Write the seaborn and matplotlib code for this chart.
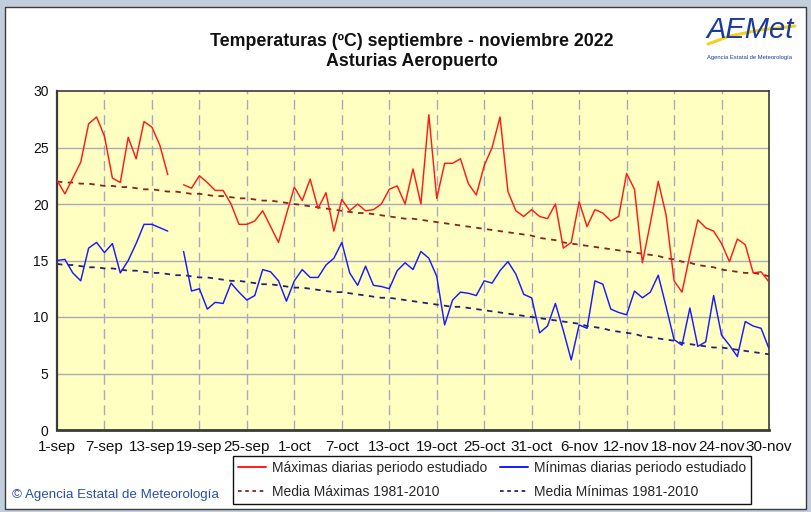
import numpy as np
import pandas as pd
import matplotlib
matplotlib.use("Agg")
import matplotlib.pyplot as plt
import seaborn as sns
from matplotlib.lines import Line2D
from matplotlib.patches import Rectangle

nan = np.nan

# Daily maximum temperatures (ºC), 1-sep .. 30-nov 2022 (16-sep missing)
tmax = [22.1, 20.9, 22.3, 23.7, 27.1, 27.7, 26.0, 22.3, 21.9, 25.9,
        24.0, 27.3, 26.8, 25.2, 22.6, nan, 21.7, 21.4, 22.5, 21.9,
        21.2, 21.2, 20.0, 18.2, 18.2, 18.5, 19.4, 18.0, 16.6, 19.1,
        21.5, 20.3, 22.2, 19.6, 21.0, 17.6, 20.4, 19.4, 20.0, 19.4,
        19.5, 20.0, 21.3, 21.6, 20.0, 23.1, 20.0, 27.9, 20.5, 23.6,
        23.6, 24.0, 21.8, 20.8, 23.4, 25.0, 27.7, 21.1, 19.4, 18.9,
        19.5, 18.9, 18.7, 20.0, 16.1, 16.6, 20.2, 18.0, 19.5, 19.2,
        18.5, 18.9, 22.7, 21.3, 14.8, 18.3, 22.0, 19.0, 13.2, 12.2,
        15.5, 18.6, 17.9, 17.6, 16.5, 14.9, 16.9, 16.4, 13.9, 14.0,
        13.1]

# Daily minimum temperatures (ºC)
tmin = [15.0, 15.1, 13.9, 13.2, 16.1, 16.6, 15.7, 16.5, 13.9, 15.0,
        16.5, 18.2, 18.2, 17.9, 17.6, nan, 15.8, 12.3, 12.5, 10.7,
        11.3, 11.2, 13.0, 12.2, 11.5, 11.9, 14.2, 14.0, 13.2, 11.4,
        13.2, 14.2, 13.5, 13.5, 14.6, 15.2, 16.6, 13.9, 12.8, 14.5,
        12.8, 12.7, 12.5, 14.1, 14.8, 14.2, 15.8, 15.2, 13.6, 9.3,
        11.5, 12.2, 12.1, 11.9, 13.2, 13.0, 14.1, 14.9, 13.8, 12.0,
        11.7, 8.6, 9.2, 11.2, 8.8, 6.2, 9.3, 9.0, 13.2, 12.9,
        10.7, 10.4, 10.2, 12.3, 11.7, 12.2, 13.7, 10.9, 8.0, 7.5,
        10.8, 7.4, 7.8, 11.9, 8.4, 7.5, 6.5, 9.6, 9.2, 9.0,
        7.2]

# Reference means 1981-2010
mean_max = [22.0, 21.9, 21.9, 21.8, 21.8, 21.7, 21.6, 21.6, 21.5, 21.5,
            21.4, 21.3, 21.3, 21.2, 21.1, 21.1, 21.0, 20.9, 20.9, 20.8,
            20.7, 20.7, 20.6, 20.5, 20.5, 20.4, 20.3, 20.3, 20.2, 20.1,
            20.0, 19.9, 19.8, 19.7, 19.6, 19.5, 19.4, 19.3, 19.2, 19.2,
            19.1, 19.0, 18.9, 18.8, 18.7, 18.7, 18.6, 18.5, 18.4, 18.3,
            18.2, 18.1, 18.0, 17.9, 17.8, 17.7, 17.6, 17.5, 17.4, 17.3,
            17.2, 17.0, 16.9, 16.8, 16.6, 16.5, 16.4, 16.3, 16.2, 16.1,
            16.0, 15.9, 15.8, 15.7, 15.6, 15.5, 15.4, 15.2, 15.1, 14.9,
            14.8, 14.6, 14.5, 14.4, 14.2, 14.1, 14.0, 13.9, 13.9, 13.8,
            13.6]

mean_min = [14.7, 14.6, 14.6, 14.5, 14.4, 14.4, 14.3, 14.3, 14.2, 14.1,
            14.1, 14.0, 13.9, 13.9, 13.8, 13.7, 13.7, 13.6, 13.5, 13.5,
            13.4, 13.3, 13.2, 13.2, 13.1, 13.0, 12.9, 12.9, 12.8, 12.7,
            12.6, 12.6, 12.5, 12.4, 12.3, 12.2, 12.2, 12.1, 12.0, 11.9,
            11.8, 11.7, 11.7, 11.6, 11.5, 11.4, 11.3, 11.2, 11.1, 11.0,
            10.9, 10.9, 10.8, 10.7, 10.6, 10.5, 10.4, 10.3, 10.2, 10.1,
            10.0, 9.9, 9.8, 9.7, 9.6, 9.5, 9.4, 9.2, 9.1, 9.0,
            8.8, 8.7, 8.6, 8.5, 8.3, 8.2, 8.1, 8.0, 7.9, 7.7,
            7.6, 7.5, 7.4, 7.3, 7.3, 7.2, 7.1, 7.0, 6.9, 6.8,
            6.7]

tick_labels = ["1-sep", "7-sep", "13-sep", "19-sep", "25-sep", "1-oct",
               "7-oct", "13-oct", "19-oct", "25-oct", "31-oct", "6-nov",
               "12-nov", "18-nov", "24-nov", "30-nov"]
y_ticks = [0, 5, 10, 15, 20, 25, 30]

legend_labels = ["Máximas diarias periodo estudiado",
                 "Mínimas diarias periodo estudiado",
                 "Media Máximas 1981-2010",
                 "Media Mínimas 1981-2010"]

sns.set_theme(style="white")
plt.rcParams["font.family"] = ["Liberation Sans", "DejaVu Sans"]
NARROW = ["Liberation Sans Narrow", "Liberation Sans", "DejaVu Sans"]

days = np.arange(len(tmax))

C_MAX, C_MIN = "#ff1a1a", "#1a1aff"
C_MMAX, C_MMIN = "#8e2222", "#23237a"


def to_segments(values):
    s = pd.Series(values, dtype=float)
    df = pd.DataFrame({"day": days, "temp": s, "seg": s.isna().cumsum()})
    return df.dropna()


fig = plt.figure(figsize=(8.12, 5.12), dpi=100)
fig.patch.set_facecolor("#c3cedd")
W, H = 812.0, 512.0

# white panel behind everything
panel = Rectangle((5 / W, 1 - 509 / H), 801 / W, 502 / H,
                  transform=fig.transFigure, facecolor="white",
                  edgecolor="#3a3a3a", linewidth=1.0, zorder=-10)
fig.patches.append(panel)

ax = fig.add_axes([57 / W, 1 - 430 / H, 712 / W, 339 / H])
ax.set_zorder(1)
ax.set_facecolor("#ffffc2")

grid_col = "#a9a9b8"
for v in y_ticks[1:-1]:
    ax.axhline(v, color=grid_col, lw=1.0, zorder=1)
for d in range(6, 90, 6):
    ax.axvline(d, color=grid_col, lw=1.0, ls=(0, (7, 4)), zorder=1)

sns.lineplot(data=to_segments(tmax), x="day", y="temp", units="seg",
             estimator=None, color=C_MAX, linewidth=1.05, ax=ax, zorder=3)
sns.lineplot(data=to_segments(tmin), x="day", y="temp", units="seg",
             estimator=None, color=C_MIN, linewidth=1.05, ax=ax, zorder=3)
sns.lineplot(x=days, y=mean_max, color=C_MMAX, linewidth=1.3,
             linestyle=(0, (3, 3)), ax=ax, zorder=2)
sns.lineplot(x=days, y=mean_min, color=C_MMIN, linewidth=1.3,
             linestyle=(0, (3, 3)), ax=ax, zorder=2)

ax.set_xlim(0, 90)
ax.set_ylim(0, 30)
ax.set_xticks(range(0, 91, 6))
ax.set_xticklabels(tick_labels, family=NARROW, fontsize=11)
ax.set_yticks(y_ticks)
ax.set_yticklabels([str(v) for v in y_ticks], fontsize=10)
ax.tick_params(axis="both", length=0, colors="#111111")
ax.tick_params(axis="x", pad=7)
ax.tick_params(axis="y", pad=6)
ax.set_xlabel("")
ax.set_ylabel("")
for side, sp in ax.spines.items():
    sp.set_color("#3a3a3a")
    sp.set_linewidth(1.2)
ax.spines["left"].set_linewidth(1.6)
ax.spines["bottom"].set_linewidth(2.0)

# title
fig.text(412 / W, 1 - 42 / H, "Temperaturas (ºC) septiembre - noviembre 2022",
         ha="center", va="center", fontsize=12.8, fontweight="bold",
         family=NARROW, color="#111111")
fig.text(412 / W, 1 - 62 / H, "Asturias Aeropuerto",
         ha="center", va="center", fontsize=12.8, fontweight="bold",
         family=NARROW, color="#111111")

# logo
fig.text(750 / W, 1 - 30 / H, "AEMet", ha="center", va="center",
         fontsize=21, style="italic", color="#1c3a9e", family=NARROW)
fig.lines.append(Line2D([708 / W, 730 / W, 760 / W, 795 / W],
                        [1 - 44 / H, 1 - 36 / H, 1 - 30 / H, 1 - 26 / H],
                        transform=fig.transFigure, color="#f2d21a", lw=2.2))
fig.text(750 / W, 1 - 57 / H, "Agencia Estatal de Meteorología",
         ha="center", va="center", fontsize=4.2, color="#1c3a9e")

# copyright
fig.text(12 / W, 1 - 495 / H, "© Agencia Estatal de Meteorología",
         ha="left", va="center", fontsize=9.6, family=NARROW, color="#2a4ea8")

# legend (column-major order: max, mean max | min, mean min)
handles = [Line2D([], [], color=C_MAX, lw=1.4),
           Line2D([], [], color=C_MMAX, lw=1.3, ls=(0, (2, 2))),
           Line2D([], [], color=C_MIN, lw=1.4),
           Line2D([], [], color=C_MMIN, lw=1.3, ls=(0, (2, 2)))]
labels = [legend_labels[0], legend_labels[2], legend_labels[1], legend_labels[3]]
leg = fig.legend(handles, labels, ncol=2, loc="center",
                 bbox_to_anchor=(492 / W, 1 - 480 / H), frameon=True,
                 fancybox=False, edgecolor="#111111", framealpha=1,
                 fontsize=10.0, handlelength=2.0, handletextpad=0.45,
                 columnspacing=0.9, labelspacing=0.75, borderpad=0.35,
                 borderaxespad=0)
leg.get_frame().set_linewidth(1.0)

fig.savefig("out.png", dpi=100, facecolor=fig.get_facecolor())
